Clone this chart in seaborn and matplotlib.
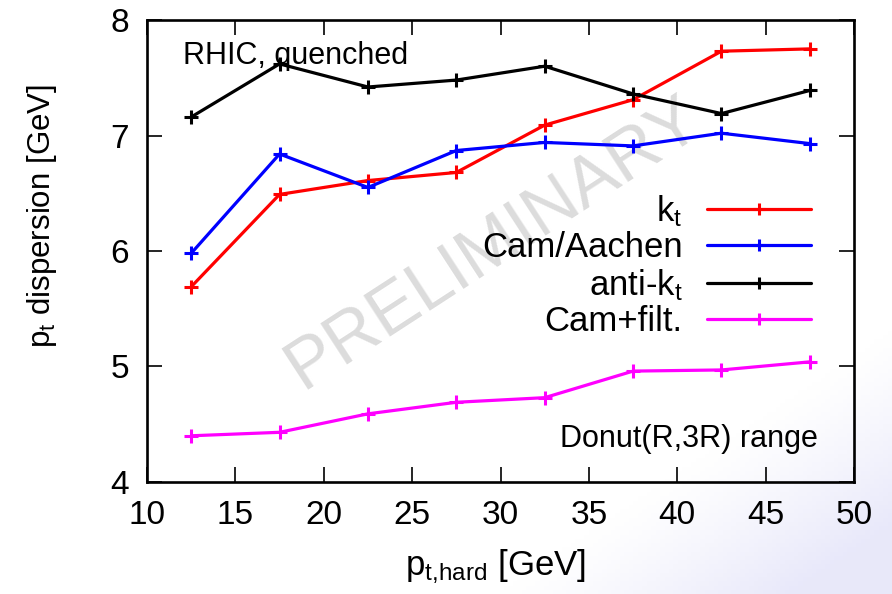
import matplotlib
matplotlib.use("Agg")
import matplotlib.pyplot as plt
import seaborn as sns
import numpy as np
import pandas as pd

# data
pt_hard = [12.5, 17.5, 22.5, 27.5, 32.5, 37.5, 42.5, 47.5]
kt = [5.69, 6.49, 6.61, 6.68, 7.09, 7.31, 7.73, 7.75]
cam_aachen = [5.98, 6.84, 6.55, 6.87, 6.94, 6.91, 7.02, 6.93]
anti_kt = [7.16, 7.62, 7.42, 7.48, 7.60, 7.36, 7.19, 7.39]
cam_filt = [4.40, 4.43, 4.59, 4.69, 4.73, 4.96, 4.97, 5.04]

series_names = ['k$_\\mathregular{t}$', 'Cam/Aachen', 'anti-k$_\\mathregular{t}$', 'Cam+filt.']
series_values = [kt, cam_aachen, anti_kt, cam_filt]
series_colors = ['#ff0000', '#0000ff', '#000000', '#ff00ff']

sns.set_style('ticks')
plt.rcParams['font.family'] = ['Liberation Sans', 'DejaVu Sans']
plt.rcParams['mathtext.fontset'] = 'custom'
plt.rcParams['mathtext.rm'] = 'Liberation Sans'
plt.rcParams['mathtext.it'] = 'Liberation Sans'
plt.rcParams['text.color'] = 'black'
plt.rcParams['axes.labelcolor'] = 'black'
plt.rcParams['xtick.color'] = 'black'
plt.rcParams['ytick.color'] = 'black'

fig = plt.figure(figsize=(8.92, 5.94), dpi=100)

# faint slide background in the lower right corner
bg = fig.add_axes([0, 0, 1, 1], zorder=-1)
gx, gy = np.meshgrid(np.linspace(0, 1, 200), np.linspace(0, 1, 140))
shade = np.clip((gx - 0.78) * 3 + (0.22 - gy) * 3, 0, 1) ** 1.2
img = np.ones((140, 200, 3))
img[..., 0] -= 0.09 * shade
img[..., 1] -= 0.09 * shade
img[..., 2] -= 0.02 * shade
bg.imshow(img, extent=[0, 1, 0, 1], aspect='auto', origin='lower')
bg.axis('off')

ax = fig.add_axes([0.1648, 0.1886, 0.7926, 0.7777])
ax.patch.set_alpha(0)

for name, vals, col in zip(series_names, series_values, series_colors):
    df = pd.DataFrame({'x': pt_hard, 'y': vals})
    sns.lineplot(data=df, x='x', y='y', ax=ax, color=col, linewidth=2.3,
                 marker='+', markersize=10, markeredgewidth=2.2,
                 markeredgecolor=col, label=name)

ax.set_xlim(10, 50)
ax.set_ylim(4, 8)
ax.set_xticks(range(10, 51, 5))
ax.set_yticks(range(4, 9))
ax.tick_params(direction='in', length=11, width=1.2, top=True, right=True,
               labelsize=24, pad=13)
for s in ax.spines.values():
    s.set_linewidth(1.9)
    s.set_color('black')

ax.set_xlabel('p$_\\mathregular{t{,}hard}$ [GeV]', fontsize=25)
ax.xaxis.set_label_coords(0.493, -0.143)
ax.set_ylabel('p$_\\mathregular{t}$ dispersion [GeV]', fontsize=22.5)
ax.yaxis.set_label_coords(-0.124, 0.576)

ax.text(0.051, 0.905, 'RHIC, quenched', transform=ax.transAxes, fontsize=22,
        ha='left', va='baseline')
ax.text(0.949, 0.076, 'Donut(R,3R) range', transform=ax.transAxes, fontsize=22,
        ha='right', va='baseline')
ax.text(0.49, 0.515, 'PRELIMINARY', transform=ax.transAxes, fontsize=51,
        color='#dcdcdc', rotation=33, ha='center', va='center', zorder=0)

leg = ax.legend(loc='upper right', bbox_to_anchor=(0.939, 0.625), frameon=False,
                markerfirst=False, fontsize=25, handlelength=3.0,
                handletextpad=0.7, labelspacing=0.07, borderaxespad=0,
                borderpad=0)
leg._legend_box.align = 'right'
for t in leg.get_texts():
    t.set_ha('right')
for h in leg.legend_handles:
    h.set_markersize(8)

fig.savefig('out.png', dpi=100)
